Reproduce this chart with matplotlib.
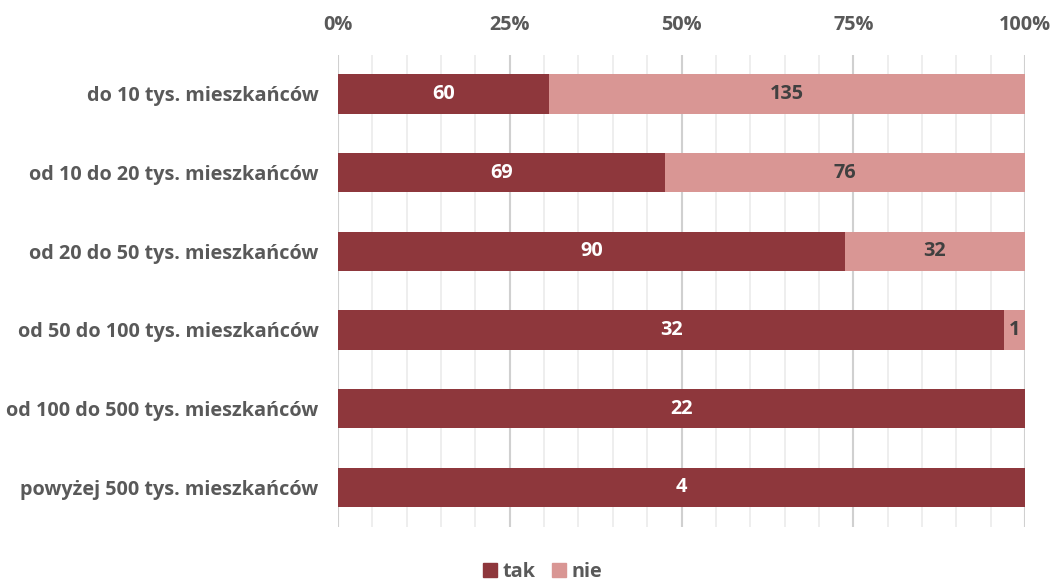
import matplotlib
matplotlib.use("Agg")
import matplotlib.pyplot as plt
from matplotlib.ticker import MultipleLocator, FuncFormatter
from matplotlib.patches import Patch
import numpy as np

categories = [
    "do 10 tys. mieszkańców",
    "od 10 do 20 tys. mieszkańców",
    "od 20 do 50 tys. mieszkańców",
    "od 50 do 100 tys. mieszkańców",
    "od 100 do 500 tys. mieszkańców",
    "powyżej 500 tys. mieszkańców",
]
tak = [60, 69, 90, 32, 22, 4]
nie = [135, 76, 32, 1, 0, 0]
series_names = ["tak", "nie"]

c_tak = "#8E373C"
c_nie = "#D99694"
text_gray = "#595959"
fs = 14.3
fw = "bold"

plt.rcParams["font.family"] = ["Open Sans", "DejaVu Sans"]

fig = plt.figure(figsize=(10.54, 5.81), dpi=100)
ax = fig.add_axes([0.3207, 0.0935, 0.6518, 0.8125])

tak_a = np.array(tak, dtype=float)
nie_a = np.array(nie, dtype=float)
total = tak_a + nie_a
tak_pct = tak_a / total * 100
nie_pct = nie_a / total * 100
y = np.arange(len(categories))

ax.barh(y, tak_pct, height=0.5, color=c_tak, zorder=3)
ax.barh(y, nie_pct, left=tak_pct, height=0.5, color=c_nie, zorder=3)

for i in range(len(categories)):
    if tak[i] > 0:
        ax.text(tak_pct[i] / 2, y[i], str(tak[i]), ha="center", va="center",
                color="white", fontsize=fs, fontweight=fw, zorder=4)
    if nie[i] > 0:
        ax.text(tak_pct[i] + nie_pct[i] / 2, y[i], str(nie[i]), ha="center",
                va="center", color="#404040", fontsize=fs,
                fontweight=fw, zorder=4)

ax.set_xlim(0, 100)
ax.set_ylim(len(categories) - 0.5, -0.5)
ax.set_yticks(y)
ax.set_yticklabels(categories, fontsize=fs, fontweight=fw, color=text_gray)
ax.xaxis.set_major_locator(MultipleLocator(25))
ax.xaxis.set_minor_locator(MultipleLocator(5))
ax.xaxis.set_major_formatter(FuncFormatter(lambda v, p: f"{int(v)}%"))
ax.xaxis.tick_top()
ax.tick_params(axis="x", which="both", length=0, labelsize=fs, labelcolor=text_gray, pad=14)
ax.tick_params(axis="y", length=0, pad=14)
for lab in ax.get_xticklabels():
    lab.set_fontweight(fw)

ax.grid(axis="x", which="minor", color="#EBEBEB", linewidth=1.2, zorder=0)
ax.grid(axis="x", which="major", color="#D0D0D0", linewidth=1.5, zorder=0)
ax.grid(axis="y", visible=False)
for s in ax.spines.values():
    s.set_visible(False)

handles = [Patch(color=c_tak), Patch(color=c_nie)]
fig.legend(handles, series_names, loc="lower center", bbox_to_anchor=(0.515, -0.033),
           ncol=2, frameon=False, handlelength=0.7, handleheight=0.7,
           handletextpad=0.3, columnspacing=0.8,
           prop={"size": fs, "weight": fw}, labelcolor=text_gray)

fig.savefig("out.png", dpi=100)
